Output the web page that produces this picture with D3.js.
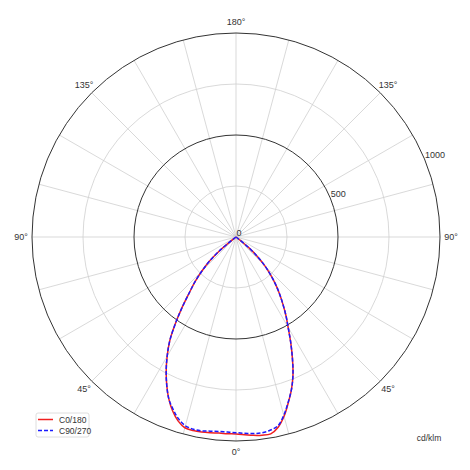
<!DOCTYPE html>
<html>
<head>
<meta charset="utf-8">
<title>Polar LDC</title>
<style>
  body { margin: 0; background: #fff; }
  text { font-family: "Liberation Sans", Arial, sans-serif; fill: #333; }
</style>
<script src="https://d3js.org/d3.v7.min.js"></script>
</head>
<body>
<svg width="470" height="470"></svg>
<script>
// gamma angles (deg, 0 = straight down) and intensities in cd/klm
var gammas = [0, 2.5, 5, 7.5, 10, 12.5, 15, 17.5, 20, 22.5, 25, 27.5, 30, 32.5, 35, 37.5, 40, 42.5, 45, 47.5, 50, 52.5, 55, 60, 65, 70, 80, 90];
var c0   = [966, 970, 976, 980, 980, 955, 910, 852, 795, 730, 654, 580, 511, 455, 400, 350, 300, 250, 200, 145, 85, 10, 0, 0, 0, 0, 0, 0];
var c90  = [959, 963, 967, 968, 962, 948, 905, 850, 795, 730, 654, 580, 511, 455, 400, 350, 300, 250, 200, 145, 85, 10, 0, 0, 0, 0, 0, 0];
var c180 = [966, 965, 965, 968, 971, 972, 968, 945, 908, 860, 803, 741, 675, 605, 518, 432, 355, 298, 236, 180, 110, 15, 0, 0, 0, 0, 0, 0];
var c270 = [959, 957, 957, 960, 965, 965, 958, 935, 900, 860, 803, 741, 675, 605, 518, 432, 355, 298, 236, 180, 110, 15, 0, 0, 0, 0, 0, 0];

var ringValues = [250, 500, 750, 1000];
var rTickLabels = [0, 500, 1000];
var angleLabels = [0, 45, 90, 135, 180];

var svg = d3.select("svg"),
    cx = 236, cy = 237, R = 204;

var r = d3.scaleLinear().domain([0, 1000]).range([0, R]);
var g = svg.append("g").attr("transform", "translate(" + cx + "," + cy + ")");

// radial spokes every 15 degrees
g.selectAll(".spoke")
  .data(d3.range(0, 360, 15))
  .enter().append("line")
  .attr("x1", 0).attr("y1", 0)
  .attr("x2", function(d) { return R * Math.sin(d * Math.PI / 180); })
  .attr("y2", function(d) { return -R * Math.cos(d * Math.PI / 180); })
  .attr("stroke", "#cfcfcf").attr("stroke-width", 0.8);

// rings
g.selectAll(".ring")
  .data(ringValues)
  .enter().append("circle")
  .attr("r", function(d) { return r(d); })
  .attr("fill", "none")
  .attr("stroke", function(d) { return d % 500 === 0 ? "#333" : "#cfcfcf"; })
  .attr("stroke-width", function(d) { return d % 500 === 0 ? 1 : 0.8; });

// radial tick labels at 22.5 deg above horizontal
var la = 67.5 * Math.PI / 180;
g.selectAll(".rlabel")
  .data(rTickLabels)
  .enter().append("text")
  .attr("x", function(d) { return r(d) * Math.sin(la) + 0.5; })
  .attr("y", function(d) { return -r(d) * Math.cos(la) - 1; })
  .attr("font-size", 9)
  .text(function(d) { return d; });

// angle labels, mirrored on both sides
var labelPts = [];
angleLabels.forEach(function(a) {
  labelPts.push({ a: Math.PI - a * Math.PI / 180, t: a + "°" });
  if (a !== 0 && a !== 180) labelPts.push({ a: Math.PI + a * Math.PI / 180, t: a + "°" });
});
g.selectAll(".alabel")
  .data(labelPts)
  .enter().append("text")
  .attr("x", function(d) { return 215 * Math.sin(d.a); })
  .attr("y", function(d) { return -215 * Math.cos(d.a); })
  .attr("text-anchor", "middle")
  .attr("dominant-baseline", "central")
  .attr("font-size", 9)
  .text(function(d) { return d.t; });

// curves: left half (C180/C270) then right half (C0/C90)
function loop(right, left) {
  var pts = [];
  for (var i = gammas.length - 1; i >= 0; i--) pts.push([Math.PI + gammas[i] * Math.PI / 180, r(left[i])]);
  for (var j = 1; j < gammas.length; j++) pts.push([Math.PI - gammas[j] * Math.PI / 180, r(right[j])]);
  return pts;
}
var line = d3.lineRadial()
  .angle(function(d) { return d[0]; })
  .radius(function(d) { return d[1]; })
  .curve(d3.curveCatmullRom.alpha(0.5));

g.append("path")
  .attr("d", line(loop(c0, c180)))
  .attr("fill", "none").attr("stroke", "#f02020").attr("stroke-width", 1.5);
g.append("path")
  .attr("d", line(loop(c90, c270)))
  .attr("fill", "none").attr("stroke", "#1a1aff").attr("stroke-width", 1.5)
  .attr("stroke-dasharray", "4,2");

// legend
var leg = svg.append("g").attr("transform", "translate(36,413)");
leg.append("rect").attr("width", 53).attr("height", 24).attr("rx", 2)
  .attr("fill", "#fff").attr("stroke", "#d5d5d5").attr("stroke-width", 0.8);
var items = [{ n: "C0/180", c: "#f02020", dash: null }, { n: "C90/270", c: "#1a1aff", dash: "4,2" }];
items.forEach(function(it, i) {
  var y = 6.5 + i * 11;
  leg.append("line").attr("x1", 2).attr("x2", 17).attr("y1", y).attr("y2", y)
    .attr("stroke", it.c).attr("stroke-width", 1.5).attr("stroke-dasharray", it.dash);
  leg.append("text").attr("x", 23).attr("y", y).attr("dominant-baseline", "central")
    .attr("font-size", 8.5).text(it.n);
});

svg.append("text").attr("x", 429).attr("y", 437.5)
  .attr("text-anchor", "middle").attr("dominant-baseline", "central")
  .attr("font-size", 8.5).text("cd/klm");
</script>
</body>
</html>
